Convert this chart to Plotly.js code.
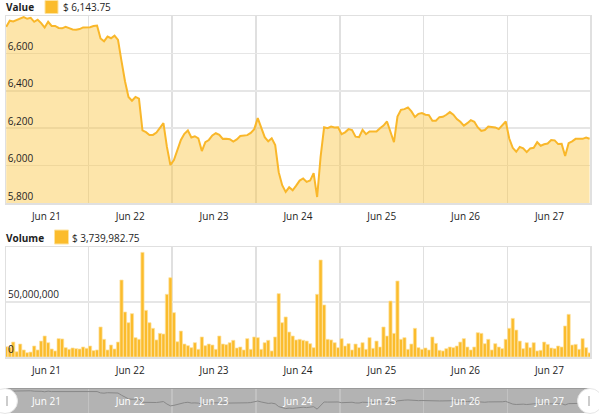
<!DOCTYPE html>
<html>
<head>
<meta charset="utf-8">
<script src="https://cdn.plot.ly/plotly-3.0.1.min.js"></script>
<style>
html,body{margin:0;padding:0;background:#fff;}
#chart{width:599px;height:419px;}
</style>
</head>
<body>
<div id="chart"></div>
<script>
// ---- data (hourly, Jun 21 00:30 .. Jun 27 23:30, 2018) ----
var startTime = '2018-06-21T00:30:00';
var valueSeries = [
  6742,6775,6771,6778,6788,6794,6785,6790,6769,6780,
  6762,6738,6769,6747,6747,6736,6734,6742,6735,6728,
  6726,6730,6739,6739,6740,6746,6749,6680,6665,6690,
  6681,6695,6672,6559,6451,6367,6347,6367,6358,6188,
  6179,6164,6164,6177,6200,6227,6100,6003,6030,6083,
  6137,6170,6188,6150,6157,6146,6078,6125,6137,6161,
  6173,6164,6143,6144,6141,6128,6140,6158,6161,6163,
  6175,6195,6254,6205,6152,6130,6146,6110,5965,5895,
  5859,5884,5868,5893,5920,5931,5913,5920,5960,5832,
  6048,6205,6200,6209,6204,6205,6168,6178,6195,6190,
  6155,6152,6191,6168,6182,6182,6182,6200,6214,6236,
  6180,6125,6262,6298,6302,6311,6290,6260,6277,6281,
  6272,6270,6240,6240,6259,6261,6272,6286,6272,6249,
  6234,6214,6227,6243,6234,6204,6186,6190,6209,6205,
  6204,6195,6215,6236,6145,6095,6074,6100,6092,6072,
  6092,6095,6125,6106,6114,6118,6137,6135,6115,6116,
  6051,6120,6130,6143,6143,6143,6150,6143.75
];
var volumeMillions = [
  9.4,8.8,13.6,4.8,11.8,6.4,3.9,4.5,10.0,6.4,
  14.5,19.1,13.0,7.3,5.5,16.7,16.4,8.5,7.0,8.2,
  7.6,7.3,9.1,7.9,10.0,5.8,6.4,27.3,16.1,6.4,
  10.9,7.3,13.6,70.0,40.9,31.2,39.4,17.6,16.1,95.1,
  42.4,31.2,26.1,15.5,21.5,20.9,57.0,72.1,40.3,13.9,
  23.6,11.8,10.3,8.5,13.0,7.0,18.2,10.3,11.8,10.9,
  7.0,19.1,11.8,11.2,13.0,15.2,8.2,9.1,6.4,16.7,
  7.0,18.2,17.6,7.0,13.0,15.2,5.5,18.2,57.6,31.2,
  36.4,22.7,19.1,15.5,16.1,15.2,14.5,12.1,8.5,57.0,
  88.2,47.3,16.1,15.5,13.0,8.5,16.7,10.0,12.1,6.4,
  11.8,8.5,13.0,7.0,17.6,7.9,14.5,9.1,27.3,19.1,
  50.9,21.5,69.1,16.1,17.6,7.0,11.8,26.1,8.5,7.0,
  8.2,6.4,18.2,12.4,6.1,5.5,7.6,9.1,8.5,10.0,
  13.6,16.7,9.1,6.4,9.1,22.1,21.5,12.1,16.1,6.4,
  12.1,9.1,7.6,16.1,26.1,35.1,24.5,14.5,7.6,13.0,
  8.5,13.0,5.5,6.1,13.6,11.5,8.2,7.6,10.0,9.1,
  28.2,38.8,10.9,11.5,7.0,16.7,8.5,3.739982
];
var dayLabels = ['Jun 21','Jun 22','Jun 23','Jun 24','Jun 25','Jun 26','Jun 27'];
var dayLabelPositions = ['2018-06-21 12:00','2018-06-22 12:00','2018-06-23 12:00','2018-06-24 12:00',
                         '2018-06-25 12:00','2018-06-26 12:00','2018-06-27 12:00'];
var valueTicks = [5800, 6000, 6200, 6400, 6600];
var volumeTicks = [0, 50000000];
var volumeTickLabels = ['0', '50,000,000'];
var valueLegendText = '$ 6,143.75';
var volumeLegendText = '$ 3,739,982.75';

// ---- build timestamps ----
var HOUR = 3600000;
var t0 = new Date(startTime + 'Z').getTime();
function fmt(ms){ return new Date(ms).toISOString().replace('T',' ').slice(0,19); }
var times = valueSeries.map(function(_, i){ return fmt(t0 + i*HOUR); });
var volumes = volumeMillions.map(function(v){ return v*1e6; });

var xRange = ['2018-06-21 00:26:00', '2018-06-27 23:37:00'];
var W = 599, H = 419;
function px(x){ return x/W; }
function py(y){ return (H - y)/H; }
var FS = 10;
var TXT = '#1e1e1e';

var gold = '#fbbc2c';
var traces = [
  {x: times, y: valueSeries, type:'scatter', mode:'lines', xaxis:'x', yaxis:'y',
   line:{color:'#f9b72a', width:2}, fill:'tozeroy', fillcolor:'rgba(250,196,62,0.44)',
   hoverinfo:'skip'},
  {x: times, y: volumes, type:'bar', xaxis:'x2', yaxis:'y2',
   marker:{color:gold, line:{color:'rgba(253,226,160,1)', width:0.7}},
   width: HOUR*0.92, hoverinfo:'skip'},
  {x: times, y: valueSeries, type:'scatter', mode:'lines', xaxis:'x3', yaxis:'y3',
   line:{color:'#888888', width:1}, hoverinfo:'skip'}
];

function makeX(extra, gridColor, labelColor){
  var o = {
    type:'date', range: xRange, tickmode:'array', tickvals: dayLabelPositions, ticktext: dayLabels,
    ticks:'', showgrid:false, zeroline:false, fixedrange:true, ticklabelstandoff:3,
    tickfont:{size:FS, color: labelColor},
    minor:{tickmode:'linear', tick0:'2018-06-21', dtick:86400000, showgrid:true,
           gridcolor:gridColor, gridwidth:1.5, ticks:''}
  };
  for (var k in extra) o[k] = extra[k];
  return o;
}

var annotations = [
  {xref:'paper', yref:'paper', x:px(4), y:py(7.5), xanchor:'left', yanchor:'middle', showarrow:false,
   text:'<b>Value</b>', font:{size:FS, color:TXT}},
  {xref:'paper', yref:'paper', x:px(61), y:py(7.5), xanchor:'left', yanchor:'middle', showarrow:false,
   text: valueLegendText, font:{size:FS, color:TXT}},
  {xref:'paper', yref:'paper', x:px(4), y:py(237.5), xanchor:'left', yanchor:'middle', showarrow:false,
   text:'<b>Volume</b>', font:{size:FS, color:TXT}},
  {xref:'paper', yref:'paper', x:px(70), y:py(237.5), xanchor:'left', yanchor:'middle', showarrow:false,
   text: volumeLegendText, font:{size:FS, color:TXT}}
];
volumeTicks.forEach(function(v, i){
  annotations.push({xref:'paper', yref:'y2', x:px(6.5), y:v, xanchor:'left', yanchor:'bottom',
    showarrow:false, text: volumeTickLabels[i], font:{size:FS, color:TXT}, borderpad:0});
});

var layout = {
  width: W, height: H,
  margin:{l:0, r:0, t:0, b:0},
  paper_bgcolor:'#ffffff', plot_bgcolor:'rgba(0,0,0,0)',
  showlegend:false,
  font:{family:'"Open Sans", "DejaVu Sans", sans-serif', size:FS, color:TXT},
  bargap:0,
  xaxis: makeX({domain:[px(6), px(590)], anchor:'y', showline:true, mirror:true, linecolor:'#e0e0e0', linewidth:1.5}, '#e0e0e0', TXT),
  yaxis: {domain:[py(203), py(16)], anchor:'x', range:[5800, 6800], tickvals: valueTicks,
          tickformat:',d', ticklabelposition:'inside top', ticks:'',
          gridcolor:'#e6e6e6', gridwidth:1.5, zeroline:false, showline:true, mirror:true,
          linecolor:'#e0e0e0', linewidth:1.5, fixedrange:true, tickfont:{size:FS, color:TXT}},
  xaxis2: makeX({domain:[px(6), px(590)], anchor:'y2', showline:true, mirror:true, linecolor:'#e0e0e0', linewidth:1.5}, '#e0e0e0', TXT),
  yaxis2: {domain:[py(357), py(247)], anchor:'x2', range:[0, 100000000], tickvals: volumeTicks,
          showticklabels:false, ticks:'',
          gridcolor:'#e6e6e6', gridwidth:1.5, zeroline:false, showline:true, mirror:true,
          linecolor:'#e0e0e0', linewidth:1.5, fixedrange:true},
  xaxis3: makeX({domain:[px(6), px(590)], anchor:'y3', ticklabelposition:'inside', showline:false}, '#c2c2c2', '#ffffff'),
  yaxis3: {domain:[py(413), py(388)], anchor:'x3', range:[5630, 6935], visible:false, fixedrange:true},
  shapes: [
    {type:'rect', xref:'paper', yref:'paper', x0:px(6), x1:px(590), y0:py(413), y1:py(388),
     fillcolor:'#b3b3b3', line:{width:0}, layer:'below'},
    {type:'line', xref:'paper', yref:'paper', x0:px(6), x1:px(590), y0:py(388.5), y1:py(388.5),
     line:{color:'#9a9a9a', width:1}},
    // legend swatches
    {type:'rect', xref:'paper', yref:'paper', x0:px(45), x1:px(58), y0:py(13.5), y1:py(0.5),
     fillcolor:gold, line:{color:'#fde3a0', width:1}},
    {type:'rect', xref:'paper', yref:'paper', x0:px(54.5), x1:px(68.5), y0:py(244), y1:py(230),
     fillcolor:gold, line:{color:'#fde3a0', width:1}},
    // scrollbar handles
    {type:'circle', xref:'paper', yref:'paper', xsizemode:'pixel', ysizemode:'pixel',
     xanchor:px(5), yanchor:py(401), x0:-12.5, x1:12.5, y0:-12.5, y1:12.5,
     fillcolor:'#ffffff', line:{color:'#e6e6e6', width:1}},
    {type:'circle', xref:'paper', yref:'paper', xsizemode:'pixel', ysizemode:'pixel',
     xanchor:px(590), yanchor:py(401), x0:-12.5, x1:12.5, y0:-12.5, y1:12.5,
     fillcolor:'#ffffff', line:{color:'#e6e6e6', width:1}},
    {type:'line', xref:'paper', yref:'paper', x0:px(7), x1:px(7), y0:py(396), y1:py(406),
     line:{color:'#bbbbbb', width:1.5}},
    {type:'line', xref:'paper', yref:'paper', x0:px(589), x1:px(589), y0:py(396), y1:py(406),
     line:{color:'#bbbbbb', width:1.5}}
  ],
  annotations: annotations
};

Plotly.newPlot('chart', traces, layout, {staticPlot:true, displayModeBar:false});
</script>
</body>
</html>
